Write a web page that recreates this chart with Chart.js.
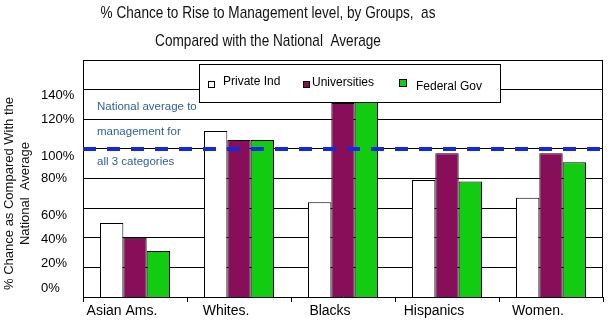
<!DOCTYPE html>
<html>
<head>
<meta charset="utf-8">
<script src="https://cdn.jsdelivr.net/npm/chart.js@4.4.1/dist/chart.umd.min.js"></script>
<style>
    html, body { margin: 0; padding: 0; background: #fff; }
</style>
</head>
<body>
<canvas id="barChart" width="608" height="327"></canvas>
<script>
const groups = ['Asian Ams.', 'Whites.', 'Blacks', 'Hispanics', 'Women.'];
const privateInd = [50, 112, 64, 79, 67];
const universities = [40, 106, 131, 97, 97];
const federalGov = [31, 106, 132, 78, 91];
const nationalAverage = 100;

// the % labels in the original sit a bit off the grid lines, so they get their own values
const yTickLabels = ['0%', '20%', '40%', '60%', '80%', '100%', '120%', '140%'];
const yTickValues = [6, 23, 39, 55, 80, 95, 120, 136];
const yGridValues = [20, 40, 60, 80, 100, 120, 140, 160];

const titleLines = ['% Chance to Rise to Management level, by Groups,  as', 'Compared with the National  Average'];
const yTitleLines = ['% Chance as Compared With the', 'National  Average'];
const noteLines = ['National average to', 'management for', 'all 3 categories'];

const FONT = 'Arial, "Liberation Sans", sans-serif';

document.addEventListener('DOMContentLoaded', function () {
    const ctx = document.getElementById('barChart').getContext('2d');

    // title, y title, frame, dashed average line, notes and the boxed legend
    const extras = {
        id: 'extras',
        beforeDatasetsDraw(chart) {
            const { ctx, chartArea } = chart;
            ctx.save();
            ctx.strokeStyle = '#000';
            ctx.lineWidth = 1;
            ctx.beginPath();
            ctx.moveTo(chartArea.left, chartArea.top + 0.5);
            ctx.lineTo(chartArea.right - 0.5, chartArea.top + 0.5);
            ctx.lineTo(chartArea.right - 0.5, chartArea.bottom);
            ctx.stroke();
            ctx.restore();
        },
        afterDatasetsDraw(chart) {
            const { ctx, chartArea } = chart;
            const yAvg = chart.scales.y.getPixelForValue(nationalAverage);

            ctx.save();
            // national average line
            ctx.strokeStyle = '#1428dc';
            ctx.lineWidth = 4;
            ctx.setLineDash([13, 11]);
            ctx.beginPath();
            ctx.moveTo(chartArea.left, yAvg);
            ctx.lineTo(chartArea.right, yAvg);
            ctx.stroke();
            ctx.setLineDash([]);

            // note text
            ctx.fillStyle = '#2f5f9a';
            ctx.font = '11.5px ' + FONT;
            ctx.textBaseline = 'middle';
            ctx.textAlign = 'left';
            const noteDy = [-42, -17, 13];
            noteLines.forEach((t, i) => ctx.fillText(t, chartArea.left + 14, yAvg + noteDy[i]));

            // legend box inside the plot
            const lx = chartArea.left + 116, ly = chartArea.top + 4;
            ctx.fillStyle = '#fff';
            ctx.fillRect(lx, ly, 301, 38);
            ctx.strokeStyle = '#000';
            ctx.lineWidth = 1;
            ctx.strokeRect(lx + 0.5, ly + 0.5, 301, 38);
            const items = [
                { sq: 9, sqY: 17, size: 7, tx: 24, ty: 18 },
                { sq: 104, sqY: 17, size: 7, tx: 113, ty: 19 },
                { sq: 200, sqY: 15, size: 8, tx: 217, ty: 23 }
            ];
            ctx.font = '12px ' + FONT;
            chart.data.datasets.forEach((ds, i) => {
                const it = items[i];
                ctx.fillStyle = ds.backgroundColor;
                ctx.fillRect(lx + it.sq, ly + it.sqY, it.size, it.size);
                ctx.strokeStyle = '#000';
                ctx.strokeRect(lx + it.sq + 0.5, ly + it.sqY + 0.5, it.size - 1, it.size - 1);
                ctx.fillStyle = '#000';
                ctx.fillText(ds.label, lx + it.tx, ly + it.ty);
            });
            ctx.restore();
        },
        afterDraw(chart) {
            const { ctx, chartArea } = chart;
            ctx.save();
            ctx.fillStyle = '#111';
            ctx.textAlign = 'center';
            ctx.textBaseline = 'middle';
            // the original title is a narrow face, so squeeze Arial sideways
            ctx.font = '17px ' + FONT;
            const cx = (chartArea.left + chartArea.right) / 2 - 75;
            ctx.save();
            ctx.translate(cx, 0);
            ctx.scale(0.8, 1);
            ctx.fillText(titleLines[0], 0, 13);
            ctx.fillText(titleLines[1], 0, 41);
            ctx.restore();

            ctx.font = '13px ' + FONT;
            ctx.translate(0, (chartArea.top + chartArea.bottom) / 2 + 15);
            ctx.rotate(-Math.PI / 2);
            ctx.fillText(yTitleLines[0], 0, 9);
            ctx.fillText(yTitleLines[1], 0, 25);
            ctx.restore();
        }
    };

    const barChart = new Chart(ctx, {
        type: 'bar',
        data: {
            labels: groups,
            datasets: [{
                label: 'Private Ind',
                data: privateInd,
                backgroundColor: '#ffffff',
                borderColor: '#000',
                borderWidth: 1
            }, {
                label: 'Universities',
                data: universities,
                backgroundColor: '#880e5a',
                borderColor: '#000',
                borderWidth: 1
            }, {
                label: 'Federal Gov',
                data: federalGov,
                backgroundColor: '#11cc11',
                borderColor: '#000',
                borderWidth: 1
            }]
        },
        options: {
            responsive: false,
            animation: false,
            categoryPercentage: 0.673,
            barPercentage: 1,
            layout: {
                padding: { top: 60, left: 41, right: 5, bottom: 0 }
            },
            plugins: {
                legend: { display: false },
                title: { display: false },
                tooltip: { enabled: false }
            },
            scales: {
                x: {
                    grid: {
                        offset: true,
                        drawOnChartArea: false,
                        drawTicks: true,
                        tickLength: 5,
                        color: '#000'
                    },
                    border: { color: '#000' },
                    ticks: {
                        color: '#000',
                        font: { family: FONT, size: 14 },
                        padding: 1,
                        labelOffset: -13,
                        maxRotation: 0,
                        autoSkip: false
                    },
                    afterFit: function (scale) { scale.height = 30; }
                },
                y: {
                    min: 0,
                    max: 160,
                    afterBuildTicks: function (scale) {
                        const vals = [...new Set([...yTickValues, ...yGridValues])].sort((a, b) => a - b);
                        scale.ticks = vals.map(v => ({ value: v }));
                    },
                    ticks: {
                        autoSkip: false,
                        crossAlign: 'far',
                        color: '#000',
                        font: { family: FONT, size: 13 },
                        callback: function (value) {
                            const i = yTickValues.indexOf(value);
                            return i >= 0 ? yTickLabels[i] : '';
                        }
                    },
                    grid: {
                        drawTicks: false,
                        color: function (c) {
                            return c.tick && yGridValues.includes(c.tick.value) ? '#000' : 'rgba(0,0,0,0)';
                        }
                    },
                    border: { color: '#000' },
                    afterFit: function (scale) { scale.width = 42; }
                }
            }
        },
        plugins: [extras]
    });
});
</script>
</body>
</html>
